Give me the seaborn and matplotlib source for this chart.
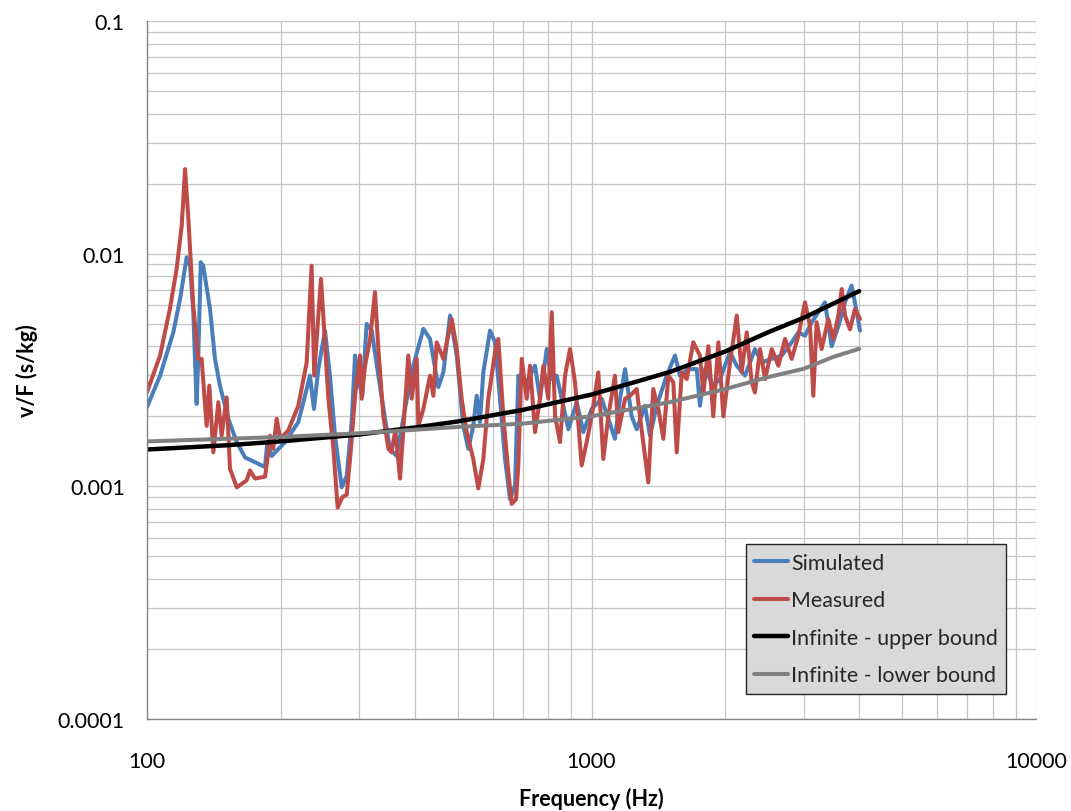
import matplotlib
matplotlib.use("Agg")
import matplotlib.pyplot as plt
from matplotlib.ticker import FixedLocator, FixedFormatter, LogLocator, NullFormatter
import numpy as np
import pandas as pd
import seaborn as sns

# Simulated mobility
sim_freq = [100, 107, 114.6, 118.7, 122.8, 125, 127.1, 129.3, 130.4, 132.1, 133.8, 138.6,
            142.2, 145.9, 152.4, 159.2, 166.2, 175, 184.3, 186.5, 190.8, 204.5, 219, 228.7,
            232.6, 237.5, 242.9, 251.4, 258, 264.8, 274.2, 281.4, 288.7, 293.8, 299.9, 305,
            312, 320.3, 331.5, 343.2, 352.2, 364.5, 380.5, 397.3, 418.5, 433.3, 452.2, 464.2,
            480.6, 497.5, 514.7, 528.3, 542, 551.7, 561, 571, 591.1, 606.7, 622.4, 639,
            655.7, 673, 684.5, 708.7, 746.3, 765.7, 793, 813.9, 835.2, 857.1, 887.2, 926.5,
            958.5, 1001, 1054, 1091, 1129, 1159, 1190, 1231, 1264, 1319, 1354, 1402,
            1476, 1541, 1582, 1651, 1725, 1754, 1800, 1879, 1945, 2050, 2122, 2215,
            2332, 2415, 2544, 2679, 2821, 2920, 3022, 3128, 3237, 3352, 3470, 3592,
            3718, 3848, 3952, 4018]
sim_vf = [0.00219, 0.00299, 0.00459, 0.00639, 0.00965, 0.00888, 0.0056, 0.00226, 0.00353, 0.00919,
          0.00888, 0.00579, 0.00353, 0.00271, 0.00195, 0.00155, 0.00133, 0.00127, 0.00121, 0.00155,
          0.00135, 0.00155, 0.00189, 0.00262, 0.00299, 0.00215, 0.00319, 0.00467, 0.00299, 0.00165,
          0.00099, 0.00111, 0.00189, 0.00365, 0.0028, 0.00245, 0.00499, 0.00467, 0.00299, 0.00195,
          0.00145, 0.00135, 0.00215, 0.0033, 0.00475, 0.0043, 0.00267, 0.00309, 0.00542, 0.00365,
          0.00182, 0.00145, 0.00182, 0.00245, 0.00189, 0.00309, 0.00467, 0.00416, 0.00238, 0.00131,
          0.00088, 0.00101, 0.00299, 0.00271, 0.0033, 0.00238, 0.00389, 0.00289, 0.00299, 0.00238,
          0.00176, 0.0023, 0.00171, 0.00215, 0.00238, 0.00195, 0.0016, 0.00238, 0.00319, 0.002,
          0.00176, 0.00222, 0.00165, 0.00222, 0.00299, 0.00365, 0.00299, 0.00319, 0.00319, 0.00222,
          0.00319, 0.00271, 0.00289, 0.00377, 0.0033, 0.00299, 0.00389, 0.00341, 0.00353, 0.00365,
          0.00416, 0.00459, 0.00444, 0.00507, 0.0056, 0.00618, 0.004, 0.00488, 0.00618, 0.00729,
          0.0056, 0.00467]

# Measured mobility
meas_freq = [100, 107, 112.6, 116.6, 119.7, 121.8, 123.9, 127.1, 130.4, 132.7, 136.2, 138.1,
             141, 144.7, 147.2, 151.1, 153.7, 159.2, 167.5, 170.5, 175, 184.3, 187.5, 189.1,
             192.3, 195.8, 199.3, 207.9, 219, 228.7, 234.6, 237.8, 242.9, 246.3, 250.6, 255.9,
             262.6, 268.5, 275.1, 281.4, 287.6, 293.8, 301.5, 304.1, 309.4, 317.6, 325.8, 331.5,
             340.2, 349.1, 355, 362, 370.9, 387.2, 394.1, 404.4, 407.8, 418.5, 433.3, 440.8,
             448.5, 464.2, 484.8, 497.5, 510.4, 523.9, 542, 556.3, 571, 585.9, 606.7, 617,
             633.4, 650, 661.6, 676.4, 684.5, 696.6, 714.9, 727.2, 746.3, 765.7, 779.2, 799.6,
             813.9, 827.9, 849.6, 871.9, 894.7, 918.2, 950.4, 975.4, 1001, 1036, 1063, 1091,
             1129, 1149, 1190, 1221, 1264, 1296, 1342, 1377, 1414, 1451, 1489, 1528,
             1555, 1596, 1638, 1694, 1754, 1785, 1832, 1879, 1929, 1980, 2050, 2122,
             2177, 2235, 2293, 2332, 2394, 2457, 2544, 2633, 2725, 2821, 2920, 3022,
             3102, 3155, 3210, 3294, 3410, 3500, 3592, 3656, 3718, 3815, 3916, 4018]
meas_vf = [0.00254, 0.00365, 0.00579, 0.0086, 0.0132, 0.0231, 0.0141, 0.00598, 0.00353, 0.00353,
           0.00182, 0.00271, 0.0014, 0.0023, 0.00165, 0.00241, 0.00119, 0.00099, 0.00106, 0.00117,
           0.00108, 0.0011, 0.0014, 0.00165, 0.00145, 0.00195, 0.0016, 0.00174, 0.00222, 0.00341,
           0.00888, 0.00299, 0.00542, 0.00779, 0.00459, 0.00238, 0.00145, 0.00081, 0.0009, 0.00092,
           0.00145, 0.00245, 0.00365, 0.00238, 0.0033, 0.0043, 0.00683, 0.00389, 0.002, 0.00145,
           0.0014, 0.00175, 0.00108, 0.00365, 0.00238, 0.00353, 0.00182, 0.00215, 0.00299, 0.00245,
           0.00416, 0.00353, 0.00524, 0.00389, 0.00238, 0.00171, 0.00131, 0.00098, 0.00131, 0.00238,
           0.00377, 0.0043, 0.002, 0.00115, 0.00084, 0.00088, 0.00123, 0.00353, 0.00238, 0.0033,
           0.00171, 0.00238, 0.0033, 0.00238, 0.0056, 0.002, 0.00155, 0.00299, 0.00389, 0.0028,
           0.00123, 0.00155, 0.002, 0.00309, 0.00131, 0.002, 0.00299, 0.00171, 0.00238, 0.00245,
           0.00262, 0.00176, 0.00104, 0.00262, 0.00215, 0.0016, 0.00299, 0.0028, 0.0014, 0.00309,
           0.00289, 0.00416, 0.00365, 0.0025, 0.004, 0.002, 0.00416, 0.002, 0.00341, 0.00542,
           0.00309, 0.00459, 0.0028, 0.00253, 0.00389, 0.00289, 0.00389, 0.0033, 0.0043, 0.00353,
           0.00444, 0.00618, 0.00488, 0.00245, 0.00507, 0.00389, 0.00524, 0.0043, 0.00542, 0.00705,
           0.00542, 0.00473, 0.00579, 0.00524]

# Infinite-plate bounds
bound_freq = [100, 150, 200, 300, 400, 500, 700, 1000, 1500, 2000, 2500, 3000, 3500, 4000]
upper_vf = [0.00144, 0.0015, 0.00156, 0.00167, 0.00179, 0.0019, 0.00213, 0.00248,
            0.0031, 0.0038, 0.0046, 0.0053, 0.0061, 0.0069]
lower_vf = [0.00156, 0.0016, 0.00163, 0.00169, 0.00175, 0.0018, 0.00186, 0.002,
            0.0023, 0.00262, 0.00295, 0.0032, 0.0036, 0.0039]

series_names = ["Simulated", "Measured", "Infinite - upper bound", "Infinite - lower bound"]
series_colors = ["#4A7EBB", "#BE4B48", "#000000", "#808080"]
series_widths = [2.9, 2.9, 3.2, 2.9]

x_ticks = [100, 1000, 10000]
x_ticklabels = ["100", "1000", "10000"]
y_ticks = [0.0001, 0.001, 0.01, 0.1]
y_ticklabels = ["0.0001", "0.001", "0.01", "0.1"]

sns.set_theme(style="white")
plt.rcParams["font.family"] = ["Lato", "DejaVu Sans"]

frames = [
    pd.DataFrame({"freq": sim_freq, "vf": sim_vf, "series": series_names[0]}),
    pd.DataFrame({"freq": meas_freq, "vf": meas_vf, "series": series_names[1]}),
    pd.DataFrame({"freq": bound_freq, "vf": upper_vf, "series": series_names[2]}),
    pd.DataFrame({"freq": bound_freq, "vf": lower_vf, "series": series_names[3]}),
]

fig = plt.figure(figsize=(10.71, 8.12), dpi=100)
ax = fig.add_axes([147 / 1071, 1 - 720 / 812, (1036 - 147) / 1071, (720 - 22) / 812])

for df, color, lw in zip(frames, series_colors, series_widths):
    sns.lineplot(data=df, x="freq", y="vf", ax=ax, color=color, linewidth=lw,
                 label=df["series"].iloc[0], estimator=None, sort=False,
                 solid_joinstyle="round", solid_capstyle="round")

ax.set_xscale("log")
ax.set_yscale("log")
ax.set_xlim(100, 10000)
ax.set_ylim(0.0001, 0.1)

ax.xaxis.set_major_locator(FixedLocator(x_ticks))
ax.xaxis.set_major_formatter(FixedFormatter(x_ticklabels))
ax.yaxis.set_major_locator(FixedLocator(y_ticks))
ax.yaxis.set_major_formatter(FixedFormatter(y_ticklabels))
ax.xaxis.set_minor_locator(LogLocator(base=10, subs=np.arange(2, 10)))
ax.yaxis.set_minor_locator(LogLocator(base=10, subs=np.arange(2, 10)))
ax.xaxis.set_minor_formatter(NullFormatter())
ax.yaxis.set_minor_formatter(NullFormatter())

grid_color = "#C6C6C6"
ax.grid(True, which="both", color=grid_color, linewidth=0.9)
ax.set_axisbelow(True)

for side in ["top", "right"]:
    ax.spines[side].set_visible(False)
for side in ["left", "bottom"]:
    ax.spines[side].set_color("#868686")
    ax.spines[side].set_linewidth(1.0)

ax.tick_params(axis="both", which="major", direction="out", length=6, width=1,
               color="#868686", labelsize=15.5, labelcolor="black")
ax.tick_params(axis="y", which="major", pad=10)
ax.tick_params(axis="x", which="major", pad=17)
ax.tick_params(axis="both", which="minor", length=0)

ax.set_xlabel("Frequency (Hz)", fontsize=15.5, fontweight="bold", color="black")
ax.set_ylabel("v/F (s/kg)", fontsize=15.5, fontweight="bold", color="black")
ax.xaxis.set_label_coords(0.5, -0.097)
ax.yaxis.set_label_coords(-0.1226, 0.5)

leg = ax.legend(loc="lower right", bbox_to_anchor=(0.9665, 0.036), frameon=True,
                fancybox=False, framealpha=1, facecolor="#D9D9D9", edgecolor="#262626",
                fontsize=15.4, handlelength=1.55, handletextpad=0.15, labelspacing=0.82,
                borderpad=0.4, borderaxespad=0)
leg.get_frame().set_linewidth(1.0)

fig.savefig("out.png", dpi=100, facecolor="white")
